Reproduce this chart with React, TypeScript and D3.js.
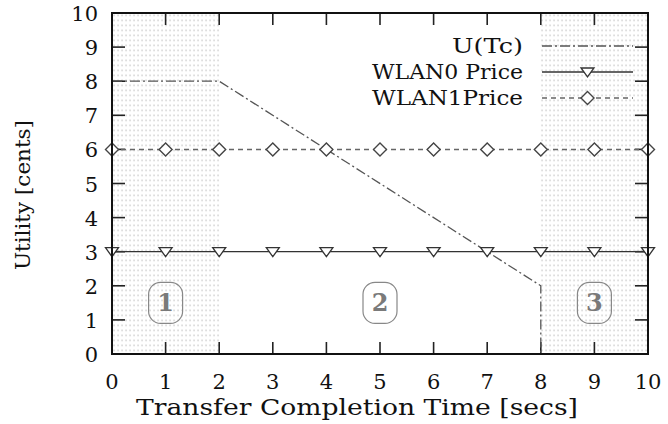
import React from "react";
import * as d3 from "d3";

// Transfer completion time (secs) at which prices are sampled
const times = [0, 1, 2, 3, 4, 5, 6, 7, 8, 9, 10];
// Price of each WLAN (cents), constant across time
const wlan0Price = [3, 3, 3, 3, 3, 3, 3, 3, 3, 3, 3];
const wlan1Price = [6, 6, 6, 6, 6, 6, 6, 6, 6, 6, 6];
// Utility function U(Tc) breakpoints
const utilityT = [0, 2, 8, 8];
const utilityU = [8, 8, 2, 0];
// Shaded regions (start, end) and region labels
const shadedRegions = [[0, 2], [8, 10]];
const regionLabels = ["1", "2", "3"];
const regionCenters = [1, 5, 9];
const regionLabelY = 1.5;
const xTicks = [0, 1, 2, 3, 4, 5, 6, 7, 8, 9, 10];
const yTicks = [0, 1, 2, 3, 4, 5, 6, 7, 8, 9, 10];
const legendLabels = ["U(Tc)", "WLAN0 Price", "WLAN1Price"];
const legendWidths = [71, 151, 151];

const W = 668;
const H = 424;
const M = { left: 112, right: 20, top: 13, bottom: 70 };
const FONT = "'DejaVu Serif', serif";

export default function App() {
  const x = d3.scaleLinear().domain([0, 10]).range([M.left, W - M.right]);
  const y = d3.scaleLinear().domain([0, 10]).range([H - M.bottom, M.top]);
  const line = d3.line<number>();

  const utilPath = d3
    .line<number>()
    .x((_, i) => x(utilityT[i]))
    .y((d) => y(d))(utilityU) as string;
  const w0Path = d3
    .line<number>()
    .x((_, i) => x(times[i]))
    .y((d) => y(d))(wlan0Price) as string;
  const w1Path = d3
    .line<number>()
    .x((_, i) => x(times[i]))
    .y((d) => y(d))(wlan1Price) as string;

  const tri = (cx: number, cy: number) =>
    `M${cx - 6.5},${cy - 4} L${cx + 6.5},${cy - 4} L${cx},${cy + 5} Z`;
  const dia = (cx: number, cy: number) =>
    `M${cx},${cy - 6.5} L${cx + 6.5},${cy} L${cx},${cy + 6.5} L${cx - 6.5},${cy} Z`;

  const utilDash = "10 3 2 3";
  const w1Dash = "5 4";

  const x0 = x(0), x1 = x(10), yb = y(0), yt = y(10);
  const legendTextX = 523;
  const legendLine = [542, 633];
  const legendRows = [46, 72, 98];

  return (
    <svg width={W} height={H} style={{ position: "absolute", left: 0, top: 0, background: "#fff" }}>
      <defs>
        <pattern id="dots" width="4" height="5" patternUnits="userSpaceOnUse" x={x0} y={yt}>
          <rect x="1.5" y="1.5" width="1.1" height="1.8" fill="#c8c8c8" />
        </pattern>
      </defs>
      <rect width={W} height={H} fill="#fff" />
      {shadedRegions.map(([a, b], i) => (
        <rect key={i} x={x(a)} y={yt} width={x(b) - x(a)} height={yb - yt} fill="url(#dots)" />
      ))}

      {/* ticks, inward on all four sides */}
      <g stroke="#222" strokeWidth={1.6}>
        {xTicks.slice(1, -1).map((t) => (
          <g key={"xt" + t}>
            <line x1={x(t)} x2={x(t)} y1={yb} y2={yb - 12} />
            <line x1={x(t)} x2={x(t)} y1={yt} y2={yt + 12} />
          </g>
        ))}
        {yTicks.slice(1, -1).map((t) => (
          <g key={"yt" + t}>
            <line x1={x0} x2={x0 + 13} y1={y(t)} y2={y(t)} />
            <line x1={x1} x2={x1 - 13} y1={y(t)} y2={y(t)} />
          </g>
        ))}
      </g>

      {/* region labels */}
      {regionLabels.map((lab, i) => {
        const cx = x(regionCenters[i]);
        const cy = y(regionLabelY);
        return (
          <g key={"r" + i}>
            <rect x={cx - 17} y={cy - 20.5} width={34} height={41} rx={12} ry={12}
              fill="none" stroke="#888" strokeWidth={1.2} />
            <text x={cx} y={cy + 8.5} textAnchor="middle" fontFamily={FONT} fontWeight="bold"
              fontSize={24} fill="#7a7a7a">{lab}</text>
          </g>
        );
      })}

      {/* series */}
      <path d={utilPath} fill="none" stroke="#555" strokeWidth={1.3} strokeDasharray={utilDash} />
      <path d={w0Path} fill="none" stroke="#333" strokeWidth={1.3} />
      <path d={w1Path} fill="none" stroke="#666" strokeWidth={1.5} strokeDasharray={w1Dash} />
      {times.map((t, i) => (
        <path key={"m0" + i} d={tri(x(t), y(wlan0Price[i]))} fill="#fff" stroke="#333" strokeWidth={1.3} />
      ))}
      {times.map((t, i) => (
        <path key={"m1" + i} d={dia(x(t), y(wlan1Price[i]))} fill="#fff" stroke="#444" strokeWidth={1.4} />
      ))}

      {/* frame */}
      <rect x={x0} y={yt} width={x1 - x0} height={yb - yt} fill="none" stroke="#111" strokeWidth={2} />

      {/* legend */}
      <g fontFamily={FONT} fontSize={20} textAnchor="end" fill="#111">
        {legendLabels.map((l, i) => (
          <text key={l} x={legendTextX} y={legendRows[i] + 7} textLength={legendWidths[i]}
            lengthAdjust="spacingAndGlyphs">{l}</text>
        ))}
      </g>
      <path d={line([[legendLine[0], legendRows[0]], [legendLine[1], legendRows[0]]]) as string}
        stroke="#555" strokeWidth={1.3} strokeDasharray={utilDash} />
      <path d={line([[legendLine[0], legendRows[1]], [legendLine[1], legendRows[1]]]) as string}
        stroke="#333" strokeWidth={1.3} />
      <path d={tri((legendLine[0] + legendLine[1]) / 2, legendRows[1])} fill="#fff" stroke="#333" strokeWidth={1.3} />
      <path d={line([[legendLine[0], legendRows[2]], [legendLine[1], legendRows[2]]]) as string}
        stroke="#666" strokeWidth={1.5} strokeDasharray={w1Dash} />
      <path d={dia((legendLine[0] + legendLine[1]) / 2, legendRows[2])} fill="#fff" stroke="#444" strokeWidth={1.4} />

      {/* tick labels */}
      <g fontFamily={FONT} fontSize={21} fill="#111">
        {xTicks.map((t) => (
          <text key={"xl" + t} x={x(t)} y={389} textAnchor="middle">{t}</text>
        ))}
        {yTicks.map((t) => (
          <text key={"yl" + t} x={98} y={y(t) + 8} textAnchor="end">{t}</text>
        ))}
      </g>

      {/* axis titles */}
      <text x={357} y={415} textAnchor="middle" fontFamily={FONT} fontSize={22} fill="#111"
        textLength={442} lengthAdjust="spacingAndGlyphs">
        Transfer Completion Time [secs]
      </text>
      <text transform={`translate(30,195) rotate(-90)`} textAnchor="middle" fontFamily={FONT}
        fontSize={21} fill="#111" textLength={150} lengthAdjust="spacingAndGlyphs">Utility [cents]</text>
    </svg>
  );
}
